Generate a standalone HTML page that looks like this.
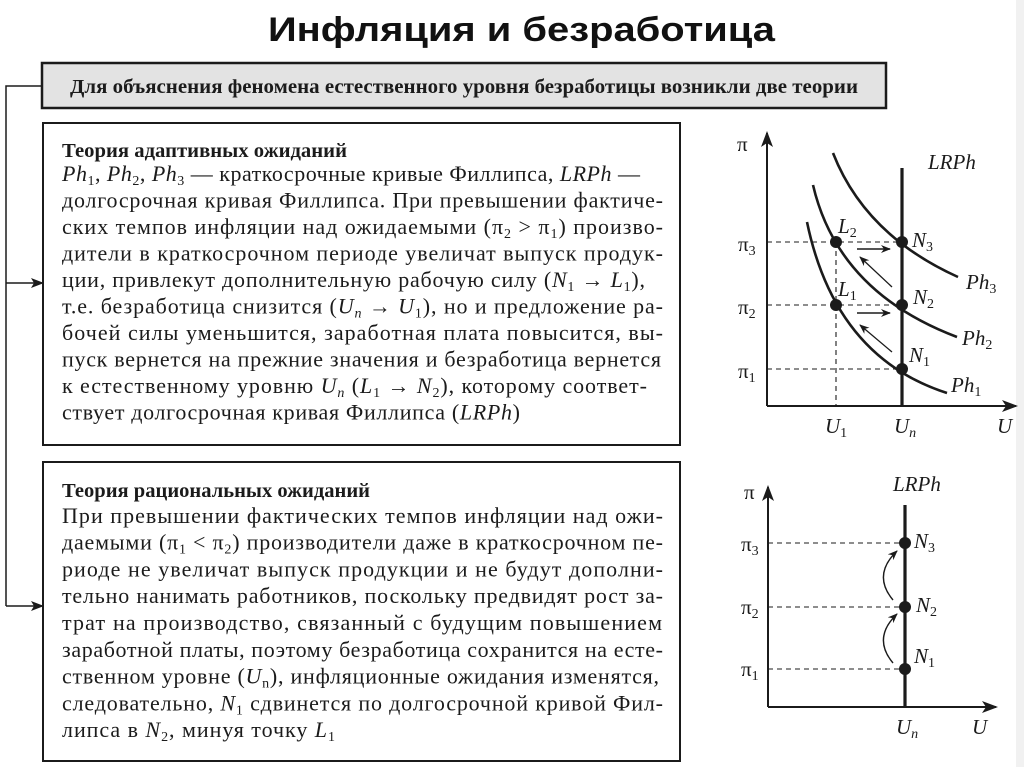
<!DOCTYPE html>
<html><head><meta charset="utf-8">
<style>
html,body{margin:0;padding:0;background:#fff;}
svg{display:block;}
.t{font-family:"Liberation Serif","Noto Serif CJK SC",serif;font-size:22px;fill:#1b1b1b;}
.b{font-weight:bold;}
.i{font-style:italic;}
.s{font-size:14px;}
.g{font-family:"Liberation Serif",serif;font-size:21px;fill:#1b1b1b;}
</style></head>
<body>
<svg width="1024" height="767" viewBox="0 0 1024 767" xmlns="http://www.w3.org/2000/svg">
<defs>
<marker id="ah" markerWidth="10" markerHeight="8" refX="9" refY="4" orient="auto" markerUnits="userSpaceOnUse">
<path d="M0,0 L10,4 L0,8 L3,4 Z" fill="#1b1b1b"/>
</marker>
<marker id="ax" markerWidth="16" markerHeight="12" refX="14" refY="6" orient="auto" markerUnits="userSpaceOnUse">
<path d="M0,0 L16,6 L0,12 L4,6 Z" fill="#1b1b1b"/>
</marker>
<marker id="am" markerWidth="13" markerHeight="10" refX="12" refY="5" orient="auto" markerUnits="userSpaceOnUse">
<path d="M0,0 L13,5 L0,10 L3,5 Z" fill="#1b1b1b"/>
</marker>
</defs>
<rect x="1016" y="0" width="8" height="767" fill="#f1f1f1"/>

<!-- Title -->
<text x="268" y="41" font-family="Liberation Sans, sans-serif" font-weight="bold" font-size="34" fill="#111" textLength="507" lengthAdjust="spacingAndGlyphs">Инфляция и безработица</text>

<!-- Top box -->
<rect x="42" y="63" width="844" height="45" fill="#e3e3e3" stroke="#1b1b1b" stroke-width="2.5"/>
<text x="70" y="93" class="t b" style="font-size:20px" textLength="788" lengthAdjust="spacingAndGlyphs">Для объяснения феномена естественного уровня безработицы возникли две теории</text>

<!-- Connector lines -->
<polyline points="42,86 6,86 6,606" fill="none" stroke="#1b1b1b" stroke-width="1.5"/>
<line x1="6" y1="283" x2="43" y2="283" stroke="#1b1b1b" stroke-width="1.5" marker-end="url(#am)"/>
<line x1="6" y1="606" x2="43" y2="606" stroke="#1b1b1b" stroke-width="1.5" marker-end="url(#am)"/>

<!-- Box 1 -->
<rect x="43" y="123" width="637" height="322" fill="#fff" stroke="#1b1b1b" stroke-width="2"/>
<g class="t">
<text x="62" y="157" class="b" style="font-size:20px" textLength="285" lengthAdjust="spacingAndGlyphs">Теория адаптивных ожиданий</text>
<text x="62" y="181" textLength="578" lengthAdjust="spacing"><tspan class="i">Ph</tspan><tspan class="s" dy="4">1</tspan><tspan dy="-4">, </tspan><tspan class="i">Ph</tspan><tspan class="s" dy="4">2</tspan><tspan dy="-4">, </tspan><tspan class="i">Ph</tspan><tspan class="s" dy="4">3</tspan><tspan dy="-4"> — краткосрочные кривые Филлипса, </tspan><tspan class="i">LRPh</tspan> —</text>
<text x="62" y="207.5" textLength="601" lengthAdjust="spacing">долгосрочная кривая Филлипса. При превышении фактиче-</text>
<text x="62" y="234" textLength="601" lengthAdjust="spacing">ских темпов инфляции над ожидаемыми (π<tspan class="s" dy="4">2</tspan><tspan dy="-4"> &gt; π</tspan><tspan class="s" dy="4">1</tspan><tspan dy="-4">) произво-</tspan></text>
<text x="62" y="260.5" textLength="601" lengthAdjust="spacing">дители в краткосрочном периоде увеличат выпуск продук-</text>
<text x="62" y="287" textLength="583" lengthAdjust="spacing">ции, привлекут дополнительную рабочую силу (<tspan class="i">N</tspan><tspan class="s" dy="4">1</tspan><tspan dy="-4"> → </tspan><tspan class="i">L</tspan><tspan class="s" dy="4">1</tspan><tspan dy="-4">),</tspan></text>
<text x="62" y="313.5" textLength="601" lengthAdjust="spacing">т.е. безработица снизится (<tspan class="i">U</tspan><tspan class="s i" dy="4">n</tspan><tspan dy="-4"> → </tspan><tspan class="i">U</tspan><tspan class="s" dy="4">1</tspan><tspan dy="-4">), но и предложение ра-</tspan></text>
<text x="62" y="340" textLength="601" lengthAdjust="spacing">бочей силы уменьшится, заработная плата повысится, вы-</text>
<text x="62" y="366.5" textLength="599" lengthAdjust="spacing">пуск вернется на прежние значения и безработица вернется</text>
<text x="62" y="393" textLength="585" lengthAdjust="spacing">к естественному уровню <tspan class="i">U</tspan><tspan class="s i" dy="4">n</tspan><tspan dy="-4"> (</tspan><tspan class="i">L</tspan><tspan class="s" dy="4">1</tspan><tspan dy="-4"> → </tspan><tspan class="i">N</tspan><tspan class="s" dy="4">2</tspan><tspan dy="-4">), которому соответ-</tspan></text>
<text x="62" y="419.5" textLength="458" lengthAdjust="spacing">ствует долгосрочная кривая Филлипса (<tspan class="i">LRPh</tspan>)</text>
</g>

<!-- Box 2 -->
<rect x="43" y="462" width="637" height="299" fill="#fff" stroke="#1b1b1b" stroke-width="2"/>
<g class="t">
<text x="62" y="497" class="b" style="font-size:20px" textLength="308" lengthAdjust="spacingAndGlyphs">Теория рациональных ожиданий</text>
<text x="62" y="522.8" textLength="601" lengthAdjust="spacing">При превышении фактических темпов инфляции над ожи-</text>
<text x="62" y="549.6" textLength="601" lengthAdjust="spacing">даемыми (π<tspan class="s" dy="4">1</tspan><tspan dy="-4"> &lt; π</tspan><tspan class="s" dy="4">2</tspan><tspan dy="-4">) производители даже в краткосрочном пе-</tspan></text>
<text x="62" y="576.4" textLength="601" lengthAdjust="spacing">риоде не увеличат выпуск продукции и не будут дополни-</text>
<text x="62" y="603.2" textLength="601" lengthAdjust="spacing">тельно нанимать работников, поскольку предвидят рост за-</text>
<text x="62" y="630" textLength="600" lengthAdjust="spacing">трат на производство, связанный с будущим повышением</text>
<text x="62" y="656.8" textLength="601" lengthAdjust="spacing">заработной платы, поэтому безработица сохранится на есте-</text>
<text x="62" y="683.6" textLength="597" lengthAdjust="spacing">ственном уровне (<tspan class="i">U</tspan><tspan class="s" dy="4">n</tspan><tspan dy="-4">), инфляционные ожидания изменятся,</tspan></text>
<text x="62" y="710.4" textLength="601" lengthAdjust="spacing">следовательно, <tspan class="i">N</tspan><tspan class="s" dy="4">1</tspan><tspan dy="-4"> сдвинется по долгосрочной кривой Фил-</tspan></text>
<text x="62" y="737.2" textLength="273" lengthAdjust="spacing">липса в <tspan class="i">N</tspan><tspan class="s" dy="4">2</tspan><tspan dy="-4">, минуя точку </tspan><tspan class="i">L</tspan><tspan class="s" dy="4">1</tspan></text>
</g>

<!-- Chart 1 -->
<g stroke="#1b1b1b" fill="none">
<line x1="767" y1="406" x2="767" y2="133" stroke-width="2" marker-end="url(#ax)"/>
<line x1="767" y1="406" x2="1016" y2="406" stroke-width="2" marker-end="url(#ax)"/>
<g stroke-width="1.1" stroke-dasharray="5,4">
<line x1="767" y1="242" x2="902" y2="242"/>
<line x1="767" y1="305" x2="902" y2="305"/>
<line x1="767" y1="369" x2="902" y2="369"/>
<line x1="836" y1="242" x2="836" y2="406"/>
</g>
<line x1="902" y1="168" x2="902" y2="406" stroke-width="3.2"/>
<path d="M833,153 Q865,235 958,277" stroke-width="2.6"/>
<path d="M813,185 Q838,292 957,337" stroke-width="2.6"/>
<path d="M807,222 Q835,357 947,393" stroke-width="2.6"/>
<line x1="857" y1="249" x2="890" y2="249" stroke-width="1.5" marker-end="url(#ah)"/>
<line x1="857" y1="313" x2="890" y2="313" stroke-width="1.5" marker-end="url(#ah)"/>
<line x1="892" y1="287" x2="860" y2="257" stroke-width="1.3" marker-end="url(#ah)"/>
<line x1="892" y1="352" x2="860" y2="325" stroke-width="1.3" marker-end="url(#ah)"/>
</g>
<g fill="#1b1b1b">
<circle cx="836" cy="242" r="6"/>
<circle cx="902" cy="242" r="6"/>
<circle cx="836" cy="305" r="6"/>
<circle cx="902" cy="305" r="6"/>
<circle cx="902" cy="369" r="6"/>
</g>
<g class="g">
<text x="737" y="151">π</text>
<text x="928" y="169" class="i">LRPh</text>
<text x="738" y="251">π<tspan class="s" dy="4">3</tspan></text>
<text x="738" y="314">π<tspan class="s" dy="4">2</tspan></text>
<text x="738" y="378">π<tspan class="s" dy="4">1</tspan></text>
<text x="838" y="233" class="i">L<tspan class="s" dy="4" font-style="normal">2</tspan></text>
<text x="838" y="296" class="i">L<tspan class="s" dy="4" font-style="normal">1</tspan></text>
<text x="912" y="247" class="i">N<tspan class="s" dy="4" font-style="normal">3</tspan></text>
<text x="913" y="304" class="i">N<tspan class="s" dy="4" font-style="normal">2</tspan></text>
<text x="909" y="362" class="i">N<tspan class="s" dy="4" font-style="normal">1</tspan></text>
<text x="966" y="289" class="i">Ph<tspan class="s" dy="4" font-style="normal">3</tspan></text>
<text x="962" y="345" class="i">Ph<tspan class="s" dy="4" font-style="normal">2</tspan></text>
<text x="951" y="392" class="i">Ph<tspan class="s" dy="4" font-style="normal">1</tspan></text>
<text x="825" y="433" class="i">U<tspan class="s" dy="4" font-style="normal">1</tspan></text>
<text x="894" y="433" class="i">U<tspan class="s" dy="4">n</tspan></text>
<text x="997" y="433" class="i">U</text>
</g>

<!-- Chart 2 -->
<g stroke="#1b1b1b" fill="none">
<line x1="768" y1="707" x2="768" y2="487" stroke-width="2" marker-end="url(#ax)"/>
<line x1="768" y1="707" x2="996" y2="707" stroke-width="2" marker-end="url(#ax)"/>
<g stroke-width="1.1" stroke-dasharray="5,4">
<line x1="768" y1="543" x2="905" y2="543"/>
<line x1="768" y1="607" x2="905" y2="607"/>
<line x1="768" y1="669" x2="905" y2="669"/>
</g>
<line x1="905" y1="505" x2="905" y2="707" stroke-width="3.2"/>
<path d="M893,600 Q872,575 897,551" stroke-width="1.4" marker-end="url(#ah)"/>
<path d="M893,663 Q872,638 897,614" stroke-width="1.4" marker-end="url(#ah)"/>
</g>
<g fill="#1b1b1b">
<circle cx="905" cy="543" r="6"/>
<circle cx="905" cy="607" r="6"/>
<circle cx="905" cy="669" r="6"/>
</g>
<g class="g">
<text x="744" y="499">π</text>
<text x="893" y="491" class="i">LRPh</text>
<text x="741" y="551">π<tspan class="s" dy="4">3</tspan></text>
<text x="741" y="614">π<tspan class="s" dy="4">2</tspan></text>
<text x="741" y="676">π<tspan class="s" dy="4">1</tspan></text>
<text x="914" y="548" class="i">N<tspan class="s" dy="4" font-style="normal">3</tspan></text>
<text x="916" y="612" class="i">N<tspan class="s" dy="4" font-style="normal">2</tspan></text>
<text x="914" y="663" class="i">N<tspan class="s" dy="4" font-style="normal">1</tspan></text>
<text x="896" y="734" class="i">U<tspan class="s" dy="4">n</tspan></text>
<text x="972" y="734" class="i">U</text>
</g>
</svg>
</body></html>
